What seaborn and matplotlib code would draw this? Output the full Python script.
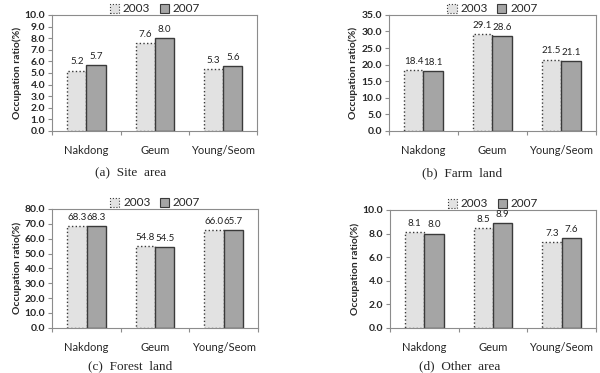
import matplotlib
matplotlib.use('Agg')
import matplotlib.pyplot as plt
import pandas as pd
import seaborn as sns
from matplotlib.patches import Patch
from matplotlib.ticker import FormatStrFormatter, MultipleLocator, FixedLocator

basins = ['Nakdong', 'Geum', 'Young/Seom']
years = ['2003', '2007']

site_2003 = [5.2, 7.6, 5.3]
site_2007 = [5.7, 8.0, 5.6]
farm_2003 = [18.4, 29.1, 21.5]
farm_2007 = [18.1, 28.6, 21.1]
forest_2003 = [68.3, 54.8, 66.0]
forest_2007 = [68.3, 54.5, 65.7]
other_2003 = [8.1, 8.5, 7.3]
other_2007 = [8.0, 8.9, 7.6]

captions = ['(a)  Site  area', '(b)  Farm  land', '(c)  Forest  land', '(d)  Other  area']
y_max = [10, 35, 80, 10]
y_step = [1, 5, 10, 2]

sns.set_style('white')
plt.rcParams['font.family'] = ['Lato', 'DejaVu Sans']

C03, C07, EDGE, SPINE = '#e2e2e2', '#a5a5a5', '#3a3a3a', '#8c8c8c'

panels = [(site_2003, site_2007), (farm_2003, farm_2007),
          (forest_2003, forest_2007), (other_2003, other_2007)]
boxes = [[0.087, 0.649, 0.342, 0.311], [0.648, 0.649, 0.345, 0.311],
         [0.087, 0.121, 0.343, 0.319], [0.650, 0.121, 0.343, 0.316]]
# caption centres in figure pixels
cap_xy = [(131, 173), (462, 173), (130, 366), (460, 366)]

fig = plt.figure(figsize=(6.0, 3.73), dpi=100)
for i, ((v03, v07), box) in enumerate(zip(panels, boxes)):
    ax = fig.add_axes(box)
    df = pd.DataFrame({'basin': basins * 2,
                       'year': [years[0]] * 3 + [years[1]] * 3,
                       'value': v03 + v07})
    sns.barplot(data=df, x='basin', y='value', hue='year', ax=ax,
                palette=[C03, C07], width=0.56, legend=False)
    for cont, ls in zip(ax.containers, [':', '-']):
        for bar in cont:
            bar.set_edgecolor(EDGE)
            bar.set_linewidth(1.0)
            bar.set_linestyle(ls)
        ax.bar_label(cont, fmt='%.1f', padding=3, fontsize=7, color='#222222')
    ax.set_ylim(0, y_max[i])
    ax.set_xlim(-0.5, 2.5)
    ax.yaxis.set_major_locator(MultipleLocator(y_step[i]))
    ax.yaxis.set_major_formatter(FormatStrFormatter('%.1f'))
    ax.set_xlabel('')
    ax.set_ylabel('Occupation ratio(%)', fontsize=7.5, fontweight='bold', labelpad=2)
    for lbl in ax.get_yticklabels():
        lbl.set_fontweight('bold')
    ax.tick_params(axis='y', labelsize=7.5, length=3, width=0.8, color=SPINE,
                   direction='out', left=True, pad=2)
    ax.tick_params(axis='x', which='major', labelsize=8, length=0, pad=10)
    ax.xaxis.set_minor_locator(FixedLocator([-0.5, 0.5, 1.5, 2.5]))
    ax.tick_params(axis='x', which='minor', length=3, width=0.8, color=SPINE,
                   direction='out', bottom=True)
    for sp in ax.spines.values():
        sp.set_visible(True)
        sp.set_color(SPINE)
        sp.set_linewidth(0.8)
    handles = [Patch(facecolor=C03, edgecolor=EDGE, linestyle=':', linewidth=0.8),
               Patch(facecolor=C07, edgecolor=EDGE, linewidth=0.8)]
    ax.legend(handles, years, loc='lower center', bbox_to_anchor=(0.5, 1.005),
              ncol=2, frameon=False, fontsize=8.5, handlelength=0.8,
              handleheight=0.8, handletextpad=0.3, columnspacing=0.8,
              borderpad=0, borderaxespad=0)
    cx, cy = cap_xy[i]
    fig.text(cx / 600, 1 - cy / 373, captions[i], ha='center', va='center',
             fontsize=9.5, family=['Liberation Serif', 'DejaVu Serif'])

fig.savefig('out.png', dpi=100)
